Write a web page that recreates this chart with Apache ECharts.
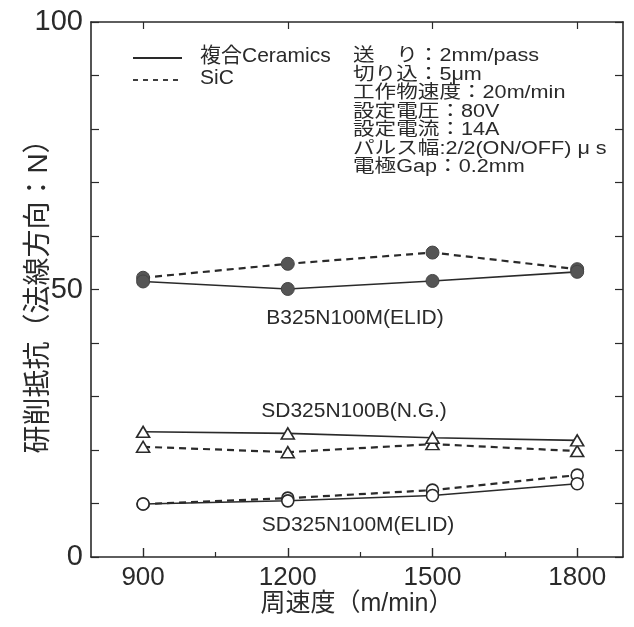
<!DOCTYPE html>
<html>
<head>
<meta charset="utf-8">
<script src="https://cdn.jsdelivr.net/npm/echarts@6/dist/echarts.min.js"></script>
<style>
  html, body { margin: 0; padding: 0; background: #fff; }
  #chart { width: 634px; height: 627px; }
</style>
</head>
<body>
<div id="chart"></div>
<script>
// 周速度 (m/min)
const speeds = [900, 1200, 1500, 1800]
const minorSpeeds = [1050, 1350, 1650]
const yLabels = [0, 50, 100]

// B325N100M(ELID) – filled circles
const bCeramics = [51.5, 50.1, 51.6, 53.3]
const bSiC = [52.2, 54.8, 56.9, 53.8]
// SD325N100B(N.G.) – triangles
const ngCeramics = [23.4, 23.1, 22.3, 21.8]
const ngSiC = [20.6, 19.6, 21.1, 19.8]
// SD325N100M(ELID) – open circles
const mCeramics = [9.9, 10.5, 11.5, 13.7]
const mSiC = [9.9, 11.0, 12.5, 15.3]

const conditions = [
  '送　り：2mm/pass',
  '切り込：5μm',
  '工作物速度：20m/min',
  '設定電圧：80V',
  '設定電流：14A',
  'パルス幅:2/2(ON/OFF) μ s',
  '電極Gap：0.2mm',
]

const FONT = '"Liberation Sans", "Noto Sans CJK JP", sans-serif'
const INK = '#2a2a2a'

function pairs(values) {
  return speeds.map((s, i) => [s, values[i]])
}

function makeSeries(name, values, dashed, symbol, filled) {
  return {
    name,
    type: 'line',
    data: pairs(values),
    symbol,
    symbolSize: symbol === 'triangle' ? [13, 11] : (filled ? 13 : 12),
    lineStyle: {
      color: INK,
      width: dashed ? 2.2 : 1.6,
      type: dashed ? [7, 5] : 'solid',
    },
    itemStyle: {
      color: filled ? '#555' : '#fff',
      borderColor: filled ? '#444' : INK,
      borderWidth: filled ? 1 : 1.6,
    },
    z: dashed ? 3 : 4,
    animation: false,
  }
}

const chart = echarts.init(document.getElementById('chart'))

const graphics = [
  { type: 'line', shape: { x1: 133, y1: 58, x2: 182, y2: 58 }, style: { stroke: INK, lineWidth: 1.8 } },
  { type: 'line', shape: { x1: 133, y1: 80, x2: 182, y2: 80 }, style: { stroke: INK, lineWidth: 1.8, lineDash: [5, 5] } },
  { type: 'text', left: 200, top: 46, style: { text: '複合Ceramics', font: `21px ${FONT}`, fill: INK } },
  { type: 'text', left: 200, top: 68, style: { text: 'SiC', font: `21px ${FONT}`, fill: INK } },
  {
    type: 'text', x: 353, y: 47, scaleX: 1.2,
    style: { text: conditions.join('\n'), font: `18px ${FONT}`, lineHeight: 18.5, fill: INK },
  },
  { type: 'text', x: 355, y: 318, style: { text: 'B325N100M(ELID)', font: `21px ${FONT}`, fill: INK, align: 'center', verticalAlign: 'middle' } },
  { type: 'text', x: 354, y: 411, style: { text: 'SD325N100B(N.G.)', font: `21px ${FONT}`, fill: INK, align: 'center', verticalAlign: 'middle' } },
  { type: 'text', x: 358, y: 525, style: { text: 'SD325N100M(ELID)', font: `21px ${FONT}`, fill: INK, align: 'center', verticalAlign: 'middle' } },
]

chart.setOption({
  animation: false,
  grid: { left: 91, right: 11, top: 22, bottom: 70, containLabel: false, outerBoundsMode: 'none' },
  xAxis: [
    {
      type: 'value', min: 792, max: 1895,
      name: '周速度（m/min）', nameLocation: 'middle', nameGap: 35, nameMoveOverlap: false,
      nameTextStyle: { fontFamily: FONT, fontSize: 25, color: INK },
      axisLine: { lineStyle: { color: INK, width: 1.6 } },
      axisTick: { inside: true, length: 9, customValues: speeds, lineStyle: { color: INK, width: 1.4 } },
      axisLabel: { customValues: speeds, formatter: v => String(v), fontFamily: FONT, fontSize: 26, color: INK, margin: 8 },
      splitLine: { show: false },
    },
    {
      type: 'value', min: 792, max: 1895, position: 'bottom',
      axisLine: { show: false },
      axisTick: { inside: true, length: 5, customValues: minorSpeeds, lineStyle: { color: INK, width: 1.2 } },
      axisLabel: { show: false },
      splitLine: { show: false },
    },
    {
      type: 'value', min: 792, max: 1895, position: 'top',
      axisLine: { lineStyle: { color: INK, width: 1.6 } },
      axisTick: { inside: true, length: 7, customValues: speeds, lineStyle: { color: INK, width: 1.2 } },
      axisLabel: { show: false },
      splitLine: { show: false },
    },
  ],
  yAxis: [
    {
      type: 'value', min: 0, max: 100, interval: 10,
      name: '研削抵抗（法線方向：N）', nameLocation: 'middle', nameGap: 38, nameMoveOverlap: false,
      nameTextStyle: { fontFamily: FONT, fontSize: 28, color: INK },
      axisLine: { show: true, lineStyle: { color: INK, width: 1.6 } },
      axisTick: { show: true, inside: true, length: 8, lineStyle: { color: INK, width: 1.2 } },
      axisLabel: { customValues: yLabels, fontFamily: FONT, fontSize: 29, color: INK, margin: 8 },
      splitLine: { show: false },
    },
    {
      type: 'value', min: 0, max: 100, interval: 10, position: 'right',
      axisLine: { show: true, lineStyle: { color: INK, width: 1.6 } },
      axisTick: { show: true, inside: true, length: 8, lineStyle: { color: INK, width: 1.2 } },
      axisLabel: { show: false },
      splitLine: { show: false },
    },
  ],
  series: [
    makeSeries('複合Ceramics B', bCeramics, false, 'circle', true),
    makeSeries('SiC B', bSiC, true, 'circle', true),
    makeSeries('複合Ceramics NG', ngCeramics, false, 'triangle', false),
    makeSeries('SiC NG', ngSiC, true, 'triangle', false),
    makeSeries('複合Ceramics M', mCeramics, false, 'circle', false),
    makeSeries('SiC M', mSiC, true, 'circle', false),
  ],
  graphic: graphics,
})
</script>
</body>
</html>
